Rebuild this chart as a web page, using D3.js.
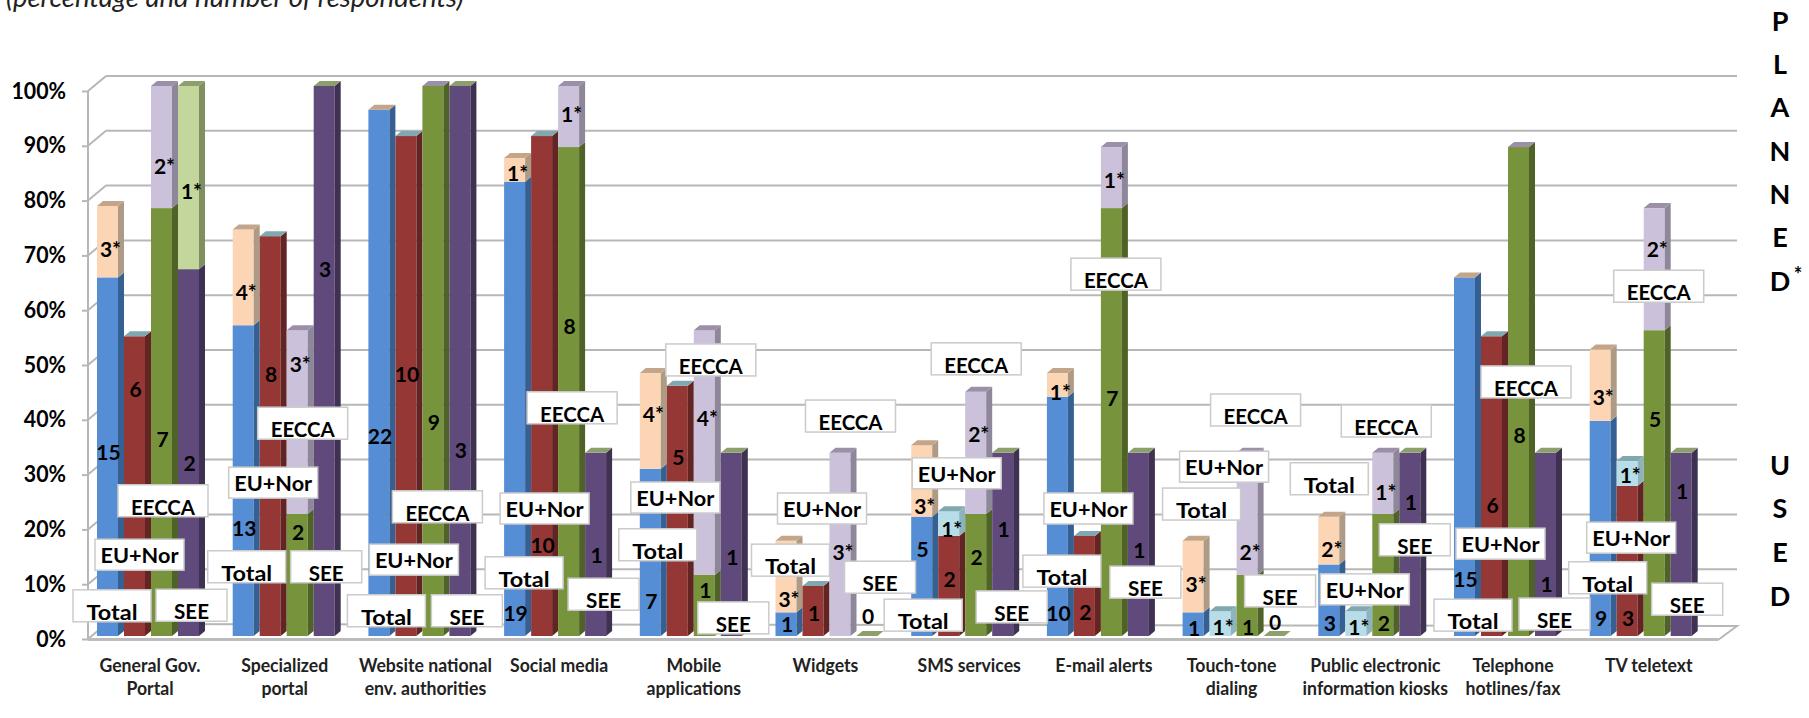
<!DOCTYPE html>
<html>
<head>
<meta charset="utf-8">
<title>E-government channels used and planned</title>
<script src="https://cdn.jsdelivr.net/npm/d3@7"></script>
<style>
  html, body { margin: 0; padding: 0; background: #fff; }
  svg { display: block; font-family: Lato, "Open Sans", sans-serif; }
</style>
</head>
<body>
<svg id="chart" width="1809" height="718"></svg>
<script>
// ---- Data: share of respondents (%) per channel ----
const categories = [
  ["General Gov.", "Portal"], ["Specialized", "portal"], ["Website national", "env. authorities"],
  ["Social media"], ["Mobile", "applications"], ["Widgets"], ["SMS services"], ["E-mail alerts"],
  ["Touch-tone", "dialing"], ["Public electronic", "information kiosks"], ["Telephone", "hotlines/fax"], ["TV teletext"]
];
const seriesNames = ["Total", "EU+Nor", "EECCA", "SEE"];
const tickValues = [0, 10, 20, 30, 40, 50, 60, 70, 80, 90, 100];

const usedTotal  = [65.2, 56.5, 95.7, 82.6, 30.4, 4.3, 21.7, 43.5, 4.3, 13.0, 65.2, 39.1];
const usedEU     = [54.5, 72.7, 90.9, 90.9, 45.5, 9.1, 18.2, 18.2, 0, 0, 54.5, 27.3];
const usedEECCA  = [77.8, 22.2, 100, 88.9, 11.1, 0, 22.2, 77.8, 11.1, 22.2, 88.9, 55.6];
const usedSEE    = [66.7, 100, 100, 33.3, 33.3, 0, 33.3, 33.3, 0, 33.3, 33.3, 33.3];

const plannedTotal = [13.0, 17.4, 0, 4.3, 17.4, 13.0, 13.0, 4.3, 13.0, 8.7, 0, 13.0];
const plannedEU    = [0, 0, 0, 0, 0, 0, 4.5, 0, 4.5, 4.5, 0, 4.5];
const plannedEECCA = [22.2, 33.4, 0, 11.1, 44.5, 33.3, 22.2, 11.1, 22.2, 11.1, 0, 22.2];
const plannedSEE   = [33.3, 0, 0, 0, 0, 0, 0, 0, 0, 0, 0, 0];

// Number of respondents printed on each segment ("" = no label)
const usedTotalCount  = ["15", "13", "22", "19", "7", "1", "5", "10", "1", "3", "15", "9"];
const usedEUCount     = ["6", "8", "10", "10", "5", "1", "2", "2", "", "", "6", "3"];
const usedEECCACount  = ["7", "2", "9", "8", "1", "", "2", "7", "1", "2", "8", "5"];
const usedSEECount    = ["2", "3", "3", "1", "1", "0", "1", "1", "0", "1", "1", "1"];
const plannedTotalCount = ["3*", "4*", "", "1*", "4*", "3*", "3*", "1*", "3*", "2*", "", "3*"];
const plannedEUCount    = ["", "", "", "", "", "", "1*", "", "1*", "1*", "", "1*"];
const plannedEECCACount = ["2*", "3*", "", "1*", "4*", "3*", "2*", "1*", "2*", "1*", "", "2*"];
const plannedSEECount   = ["1*", "", "", "", "", "", "", "", "", "", "", ""];

// ---- Label layout: heights on the percentage scale, shifts in pixels ----
const usedLevels = [
  [33.6, 19.8, 36.4, 4.2, 6.5, 2.2, 16, 4.2, 1.6, 2.5, 10.4, 3.3],
  [45, 47.8, 47.8, 16.7, 32.6, 4.2, 10.4, 4.4, 0, 0, 24, 3.3],
  [36, 19, 39, 56.4, 8.5, 0, 14.4, 43.3, 1.8, 2.5, 36.7, 39.5],
  [31.5, 66.9, 34, 14.9, 14.4, 3.8, 19.6, 15.8, 2.7, 24.5, 9.6, 26.4]
];
const plannedLevels = [
  [70.5, 62.7, 0, 84.2, 40.5, 6.9, 23.8, 44.4, 9.5, 16, 0, 43.6],
  [0, 0, 0, 0, 0, 0, 19.6, 0, 1.8, 1.8, 0, 29.3],
  [85.6, 49.6, 0, 95, 39.8, 15.3, 36.9, 83, 15.3, 26.2, 0, 70.4],
  [81, 0, 0, 0, 0, 0, 0, 0, 0, 0, 0, 0]
];
const tagShift = [
  [-24, -25, -21, -19, -21, -24, -27, -24, -20, -28, -20, -21],
  [-2, -4, 1, -4, -9, 2, 1, -3, -3, 2, 2, -3],
  [21, 25, 24, 23, 26, 30, 20, 24, 28, 23, 27, 24],
  [59, 58, 63, 64, 58, 69, 65, 63, 62, 61, 65, 62]
];
const tagLevel = [
  [8.4, 15.5, 7.5, 14.4, 19.5, 16.7, 6.7, 14.7, 26.9, 31.5, 6.7, 13.5],
  [17.6, 30.7, 16.7, 26, 28, 26, 32.4, 26, 33.6, 11.3, 19.6, 20.7],
  [27.5, 41.6, 26.4, 44.4, 53.1, 42.9, 53.3, 68.7, 44, 42, 49.1, 66.5],
  [8.5, 15.5, 7.5, 10.5, 6.2, 13.6, 8.2, 12.7, 11.1, 20.4, 6.9, 9.6]
];
const categoryShift = [-1, -2, 3, 1, 0, -4, 4, 3, -5, 3, 5, 5];

const usedValues = [usedTotal, usedEU, usedEECCA, usedSEE];
const plannedValues = [plannedTotal, plannedEU, plannedEECCA, plannedSEE];
const usedCounts = [usedTotalCount, usedEUCount, usedEECCACount, usedSEECount];
const plannedCounts = [plannedTotalCount, plannedEUCount, plannedEECCACount, plannedSEECount];

// Per-series colours: front face and side of the used and planned segments, plus the lid
const palette = [
  { used: "#558ed5", usedSide: "#376092", plan: "#fcd5b5", planSide: "#ae9b85", lid: "#c4a58a" },
  { used: "#953735", usedSide: "#632523", plan: "#b7dee8", planSide: "#8fb3bc", lid: "#7fa8b0" },
  { used: "#77933c", usedSide: "#4f6228", plan: "#ccc1da", planSide: "#8e8799", lid: "#9c8fa8" },
  { used: "#604a7b", usedSide: "#3f3151", plan: "#c3d69b", planSide: "#7f8f60", lid: "#8d9f6d" }
];

// Narrow a text horizontally so Lato sits closer to the tighter label face
function squeeze(selection, factor) {
  selection.each(function () {
    this.setAttribute("textLength", this.getComputedTextLength() * factor);
    this.setAttribute("lengthAdjust", "spacingAndGlyphs");
  });
}

// ---- Scales ----
const svg = d3.select("#chart");
const barY = d3.scaleLinear().domain([0, 100]).range([636, 86]);
const frontY = d3.scaleLinear().domain([0, 100]).range([639, 91]);
const backY = d3.scaleLinear().domain([0, 100]).range([624, 76]);
const groupX = d3.scalePoint().domain(d3.range(categories.length)).range([97, 1589.7]);
const barX = d3.scaleBand().domain(seriesNames).range([0, 108]);
const faceW = 21, sideW = 6, sideH = 5;
const wallFront = 88, wallBack = 106, floorFront = 1718, wallRight = 1737;
const gridColor = "#b7b7b7";

// ---- Walls, floor and axis ----
const walls = svg.append("g").attr("fill", "none").attr("stroke", gridColor).attr("stroke-width", 2);
walls.selectAll("line.grid").data(tickValues.slice(1)).join("line").attr("class", "grid")
  .attr("x1", wallBack).attr("x2", wallRight).attr("y1", d => backY(d)).attr("y2", d => backY(d));
walls.selectAll("line.side").data(tickValues).join("line").attr("class", "side")
  .attr("x1", wallFront).attr("x2", wallBack).attr("y1", d => frontY(d)).attr("y2", d => backY(d));
walls.append("path")
  .attr("d", d3.line()([[wallBack, backY(0)], [wallRight, backY(0) + 2], [floorFront, frontY(0) + 1]]));
walls.append("line").attr("x1", wallFront).attr("x2", floorFront)
  .attr("y1", frontY(0) + 0.5).attr("y2", frontY(0) + 0.5).attr("stroke-width", 3).attr("stroke", "#bcbcbc");

const axis = svg.append("g").attr("transform", `translate(${wallFront},0)`)
  .call(d3.axisLeft(frontY).tickValues(tickValues).tickFormat(d => d + "%").tickSize(6).tickPadding(16));
axis.selectAll("path, line").attr("stroke", gridColor).attr("stroke-width", 2);
axis.select(".domain").attr("d", `M0,${frontY(100)}V${frontY(0)}`);
axis.selectAll("text").attr("font-family", "Lato").attr("font-size", 22).attr("font-weight", 700).attr("fill", "#000")
  .call(squeeze, 0.97);

// ---- Bars ----
const bars = svg.append("g");
function drawBlock(left, low, high, face, side) {
  const right = left + faceW;
  bars.append("rect").attr("x", left).attr("y", barY(high)).attr("width", faceW)
    .attr("height", barY(low) - barY(high)).attr("fill", face);
  bars.append("path").attr("fill", side).attr("d", d3.line()([
    [right, barY(high)], [right + sideW, barY(high) - sideH], [right + sideW, barY(low) - sideH], [right, barY(low)]
  ]));
}
function drawLid(left, level, colour) {
  const y = barY(level);
  bars.append("path").attr("fill", colour).attr("d", d3.line()([
    [left, y], [left + sideW, y - sideH], [left + faceW + sideW, y - sideH], [left + faceW, y]
  ]));
}
categories.forEach((_, i) => {
  seriesNames.forEach((name, s) => {
    const left = groupX(i) + barX(name);
    const used = usedValues[s][i], planned = plannedValues[s][i];
    const c = palette[s];
    if (used > 0) drawBlock(left, 0, used, c.used, c.usedSide);
    if (planned > 0) drawBlock(left, used, used + planned, c.plan, c.planSide);
    drawLid(left, used + planned, c.lid);
  });
});

// ---- Region tags: white boxes naming each bar ----
const tags = svg.append("g");
const tagSize = { "Total": [78, 32], "EU+Nor": [89, 31], "EECCA": [90, 32], "SEE": [71, 32] };
const tagTextWidth = { "Total": 51, "EU+Nor": 78, "EECCA": 64, "SEE": 35 };
categories.forEach((_, i) => {
  seriesNames.forEach((name, s) => {
    const [w, h] = tagSize[name];
    const x = groupX(i) + tagShift[s][i];
    const y = barY(tagLevel[s][i]);
    tags.append("rect").attr("x", x).attr("y", y).attr("width", w).attr("height", h)
      .attr("fill", "#fff").attr("stroke", "#cbcbcb").attr("stroke-width", 1.5);
    tags.append("text").attr("x", x + w / 2).attr("y", name === "EU+Nor" ? y + h - 7 : y + h - 2)
      .attr("text-anchor", "middle").attr("font-size", 21).attr("font-weight", 700).attr("fill", "#000")
      .attr("textLength", tagTextWidth[name]).attr("lengthAdjust", "spacingAndGlyphs")
      .text(name);
  });
});

// ---- Respondent counts ----
const counts = svg.append("g").attr("font-size", 21).attr("font-weight", 700).attr("fill", "#000")
  .attr("text-anchor", "middle").attr("dominant-baseline", "central");
categories.forEach((_, i) => {
  seriesNames.forEach((name, s) => {
    const cx = groupX(i) + barX(name) + faceW / 2 + 1;
    if (usedCounts[s][i] !== "") {
      counts.append("text").attr("x", cx).attr("y", barY(usedLevels[s][i])).text(usedCounts[s][i]);
    }
    if (plannedCounts[s][i] !== "") {
      counts.append("text").attr("x", cx + 2).attr("y", barY(plannedLevels[s][i])).text(plannedCounts[s][i]);
    }
  });
});

// ---- Category labels ----
const catLabels = svg.append("g").attr("font-size", 18).attr("font-weight", 700).attr("fill", "#222")
  .attr("text-anchor", "middle");
categories.forEach((lines, i) => {
  lines.forEach((line, k) => {
    catLabels.append("text").attr("x", groupX(i) + 54 + categoryShift[i])
      .attr("y", 672 + k * 23).text(line).call(squeeze, 0.98);
  });
});

// ---- Subtitle, cut by the top edge of the page ----
svg.append("text").attr("x", 6).attr("y", 7).attr("font-size", 27.5).attr("font-style", "italic")
  .attr("fill", "#222").text("(percentage and number of respondents)");

// ---- Vertical side captions ----
const sideCaption = svg.append("g").attr("font-size", 27).attr("font-weight", 700).attr("fill", "#000")
  .attr("text-anchor", "middle").attr("dominant-baseline", "central");
const plannedLetters = ["P", "L", "A", "N", "N", "E", "D"];
const usedLetters = ["U", "S", "E", "D"];
const plannedRows = d3.scalePoint().domain(d3.range(plannedLetters.length)).range([20, 280]);
const usedRows = d3.scalePoint().domain(d3.range(usedLetters.length)).range([464, 595]);
plannedLetters.forEach((c, i) => sideCaption.append("text").attr("x", 1780).attr("y", plannedRows(i)).text(c));
usedLetters.forEach((c, i) => sideCaption.append("text").attr("x", 1780).attr("y", usedRows(i)).text(c));
sideCaption.append("text").attr("x", 1798).attr("y", 274).attr("font-size", 20).text("*");
</script>
</body>
</html>
